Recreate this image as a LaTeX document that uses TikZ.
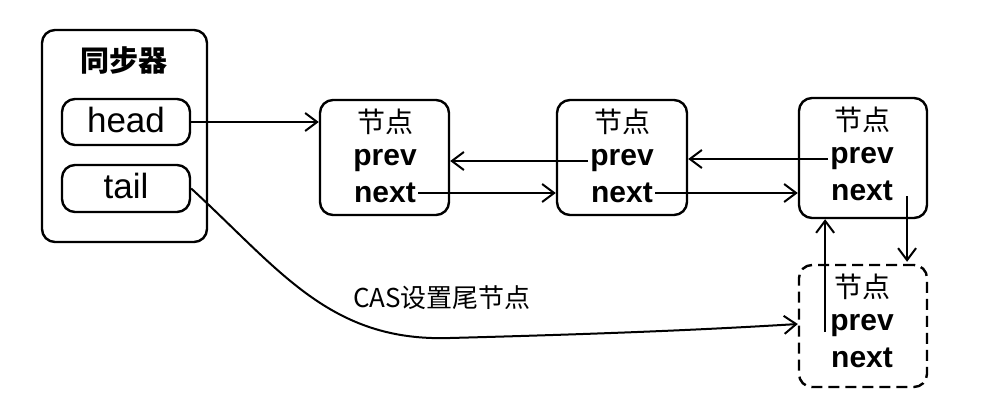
\documentclass[tikz,border=0pt]{standalone}
\usepackage{fontspec}
\setmainfont{Liberation Sans}
\newfontfamily\cjk{Noto Sans CJK SC}
\usetikzlibrary{arrows.meta,calc}
\begin{document}
\begin{tikzpicture}[x=1pt,y=-1pt,
  box/.style={draw,line width=2.4pt,rounded corners=13pt,inner sep=0pt},
  dbox/.style={box,dash pattern=on 11pt off 6pt},
  cn/.style={font=\cjk\fontsize{28}{28}\selectfont,inner sep=1pt},
  fld/.style={font=\bfseries\fontsize{30}{30}\selectfont,inner sep=2pt},
  lbl/.style={font=\fontsize{35}{35}\selectfont,inner sep=0pt},
  arr/.style={line width=2pt,-{Straight Barb[length=12pt,width=18pt,line width=2pt]}}]
\useasboundingbox (0,0) rectangle (981,414);
% synchroniser
\node[box,minimum width=165pt,minimum height=212pt] (sync) at (124.5,136) {};
\node[font=\cjk\bfseries\fontsize{29}{29}\selectfont] (title) at (124,60) {同步器};
\node[box,minimum width=128pt,minimum height=46pt] (head) at (126,122) {};
\node[lbl] (headt) at (126,120) {head};
\node[box,minimum width=128pt,minimum height=47pt] (tail) at (126,188.5) {};
\node[lbl] (tailt) at (126,186) {tail};
% nodes
\node[box,minimum width=129pt,minimum height=115pt] (n1) at (384.5,157.5) {};
\node[box,minimum width=130pt,minimum height=115pt] (n2) at (622,157.5) {};
\node[box,minimum width=128pt,minimum height=120pt] (n3) at (863,158) {};
\node[dbox,minimum width=128pt,minimum height=122pt] (n4) at (863,326) {};
\foreach \n/\x/\y in {1/385/122,2/622/122,3/862/120,4/862/287}{
  \node[cn] (c\n) at (\x,\y) {节点};
  \node[fld] (p\n) at (\x,{\y+39}) {prev};
  \node[fld] (x\n) at (\x,{\y+71}) {next};
}
% connectors
\draw[arr] (head.east) -- (n1.west |- head.east);
\draw[arr] (p2.west) -- (n1.east |- p2.west);
\draw[arr] (p3.west) -- (n2.east |- p3.west);
\draw[arr] (x1.east) -- (n2.west |- x1.east);
\draw[arr] (x2.east) -- (n3.west |- x2.east);
\draw[arr] ($(x3.east)+(12,5)$) -- ($(x3.east |- n4.north)+(12,-2)$);
\draw[arr] ($(p4.west)+(-3,6)$) -- ($(p4.west |- n3.south)+(-3,0)$);
\draw[arr] (tail.east) .. controls (280,270) and (330,342) .. (450,338)
  .. controls (600,334) and (700,330) .. (n4.west |- 0,324);
\node[font=\fontsize{26}{26}\selectfont\cjk,inner sep=0pt] (cas) at (442,298) {CAS设置尾节点};
\end{tikzpicture}
\end{document}
